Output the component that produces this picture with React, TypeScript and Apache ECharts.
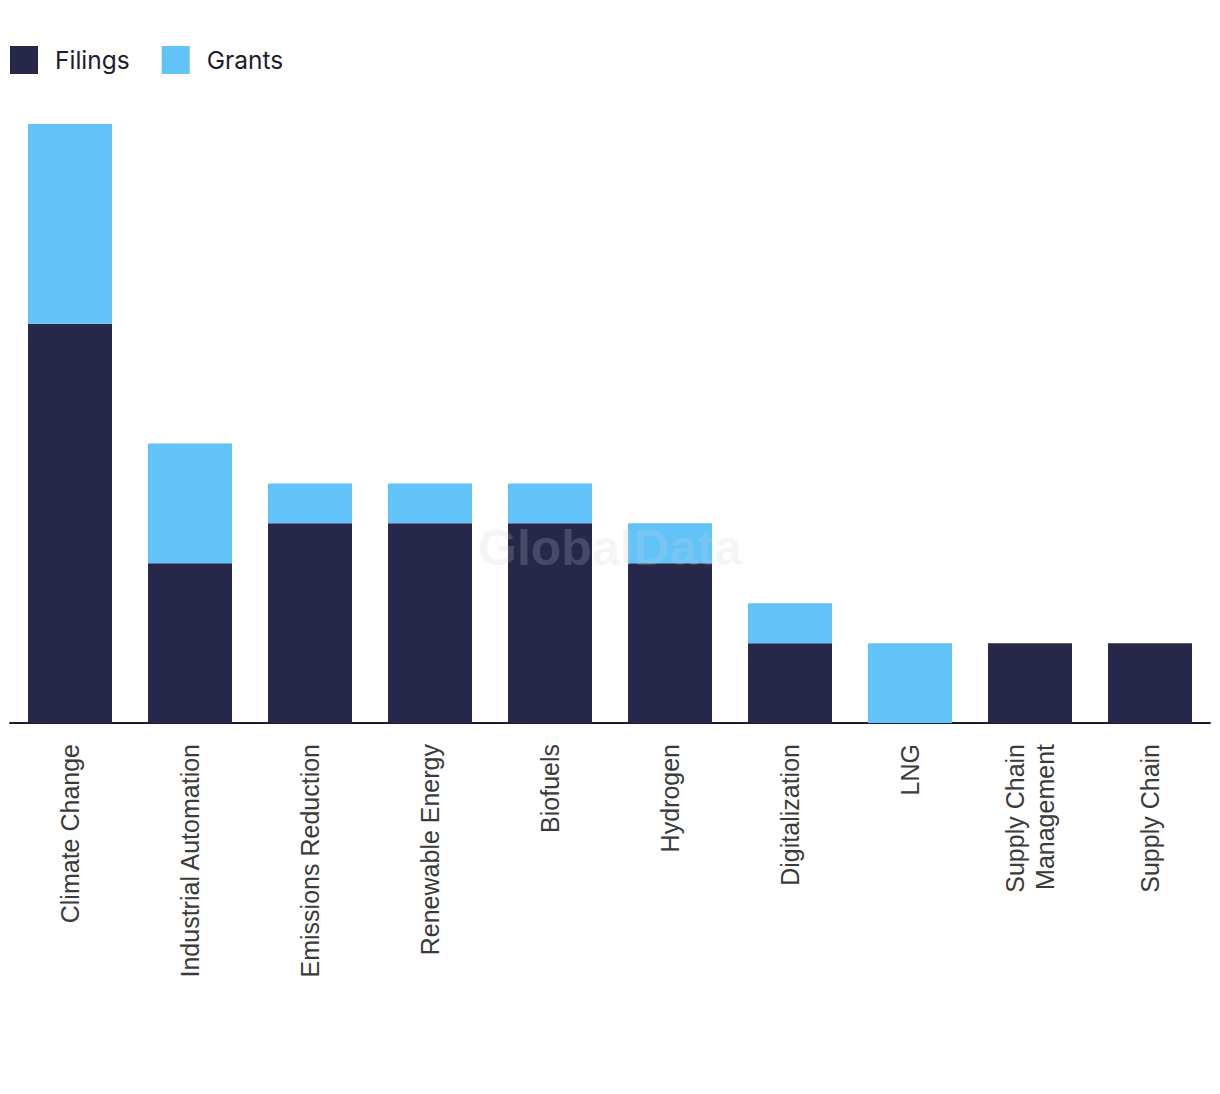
import React, { useEffect, useRef } from "react";
import * as echarts from "echarts";

const categories = [
  "Climate Change",
  "Industrial Automation",
  "Emissions Reduction",
  "Renewable Energy",
  "Biofuels",
  "Hydrogen",
  "Digitalization",
  "LNG",
  "Supply Chain\nManagement",
  "Supply Chain",
];
const filings = [10, 4, 5, 5, 5, 4, 2, 0, 2, 2];
const grants = [5, 3, 1, 1, 1, 1, 1, 2, 0, 0];

export default function App() {
  const ref = useRef<HTMLDivElement>(null);
  useEffect(() => {
    document.body.style.margin = "0";
    const chart = echarts.init(ref.current!, null, { renderer: "svg" });
    chart.setOption({
      animation: false,
      backgroundColor: "#ffffff",
      legend: {
        left: 10,
        top: 46,
        itemWidth: 28,
        itemHeight: 28,
        itemGap: 32,
        icon: "rect",
        padding: 0,
        textStyle: {
          fontFamily: "Inter",
          fontSize: 24.5,
          color: "#1c1c30",
          padding: [0, 0, 6, 12],
        },
        data: ["Filings", "Grants"],
      },
      graphic: [
        {
          type: "text",
          left: "center",
          top: 523,
          style: {
            text: "GlobalData",
            font: "bold 50px 'Liberation Sans', Arial",
            fill: "rgba(205,205,220,0.2)",
          },
          z: 100,
        },
      ],
      grid: { left: 10, right: 10, top: 124, bottom: 371, containLabel: false },
      xAxis: {
        type: "category",
        data: categories,
        axisLine: { lineStyle: { color: "#1c1c30", width: 2 } },
        axisTick: { show: false },
        axisLabel: {
          interval: 0,
          rotate: 90,
          margin: 21,
          fontFamily: "'Liberation Sans', Arial",
          fontSize: 25,
          color: "#3a3a3a",
          lineHeight: 30,
        },
      },
      yAxis: {
        type: "value",
        min: 0,
        max: 15,
        show: false,
        splitLine: { show: false },
      },
      series: [
        {
          name: "Filings",
          type: "bar",
          stack: "total",
          barWidth: "70%",
          data: filings,
          itemStyle: { color: "#27274a" },
        },
        {
          name: "Grants",
          type: "bar",
          stack: "total",
          barWidth: "70%",
          data: grants,
          itemStyle: { color: "#62c3f9" },
        },
      ],
    });
    return () => chart.dispose();
  }, []);
  return <div ref={ref} style={{ width: 1220, height: 1094 }} />;
}
